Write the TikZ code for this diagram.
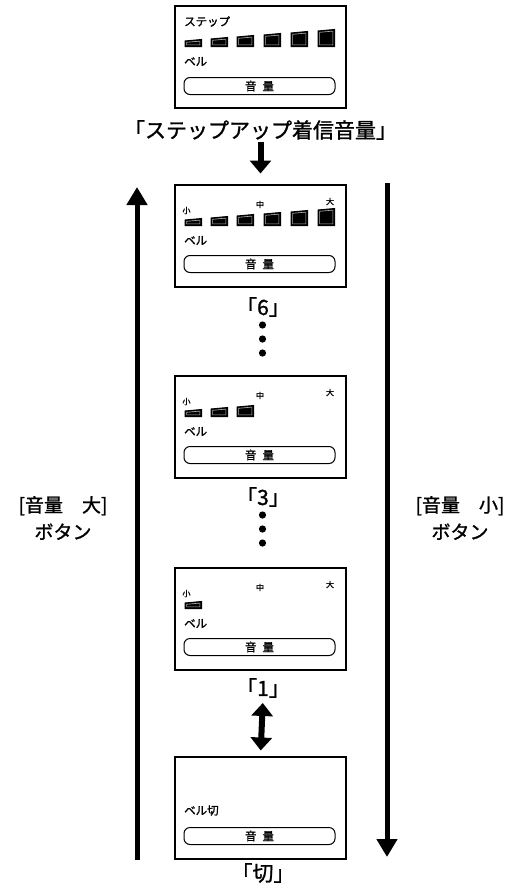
\documentclass[tikz,border=0pt]{standalone}
\usepackage{fontspec}
\setmainfont{Noto Sans CJK JP}[FakeBold=1.2]
\usetikzlibrary{arrows.meta,positioning}

\tikzset{
  pantalla/.style={draw, line width=2pt, minimum width=171pt, minimum height=102pt, inner sep=0pt},
  etiqueta/.style={font=\fontsize{21}{24}\selectfont, inner sep=0pt},
  lado/.style={font=\fontsize{19}{27}\selectfont, align=center, inner sep=0pt},
  texto/.style={font=\fontsize{11.5}{13}\selectfont, inner sep=0pt},
  marca/.style={font=\fontsize{8}{9}\selectfont, inner sep=0pt},
  flecha/.style={line width=6pt, -{Triangle[width=21pt,length=13pt]}},
  flechados/.style={line width=6pt, {Triangle[width=21pt,length=13pt]}-{Triangle[width=21pt,length=13pt]}},
  flechalarga/.style={line width=5pt, -{Triangle[width=20pt,length=18pt]}},
}

% barras de volumen (#1 = cuantas)
\newcommand{\barras}[1]{%
  \foreach \i/\xb/\h in {1/11/7, 2/37/9, 3/63/11, 4/90/13, 5/117/15, 6/144/17}{
    \ifnum\i>#1\relax\else
      \filldraw[line width=1pt, fill=black] (\xb,42) -- ++(16.5,0) -- ++(0,-\h) -- ++(-16.5,1.5) -- cycle;
      \draw[gray!60, line width=0.6pt] ({\xb+1.6},40.4) -- ++(13.3,0) -- ++(0,{-(\h-3.2)}) -- ++(-13.3,1.2) -- cycle;
    \fi}}

% boton "音 量" (#1 = prefijo, #2 = y)
\newcommand{\boton}[2]{%
  \draw[line width=1pt, rounded corners=6pt] (10,#2) rectangle (161,#2+17);
  \node[texto] (#1-vol) at (85.5,#2+8.5) {音\hspace{6pt}量};}

% escala con 小 中 大
\newcommand{\escala}[2]{%
  \node[marca] (#1-min) at (12.5,27) {小};
  \node[marca] (#1-med) at (86,21) {中};
  \node[marca] (#1-max) at (156,18) {大};
  \barras{#2}
  \node[texto, anchor=west] (#1-bel) at (10,57) {ベル};
  \boton{#1}{72}}

\begin{document}
\begin{tikzpicture}[x=1pt, y=-1pt]
    \useasboundingbox (0,0) rectangle (520,889);

    % Pantallas
    \node[pantalla] (p0) at (260.5,56.5) {};
    \node[pantalla] (p6) at (260.5,235.5) {};
    \node[pantalla] (p3) at (260.5,426.5) {};
    \node[pantalla] (p1) at (260.5,618.5) {};
    \node[pantalla] (pk) at (260.5,807.5) {};

    % Paso a paso
    \begin{scope}[shift={(p0.north west)}]
        \node[texto, anchor=west] (p0-txt) at (10,17) {ステップ};
        \barras{6}
        \node[texto, anchor=west] (p0-bel) at (10,57) {ベル};
        \boton{p0}{73}
    \end{scope}
    \begin{scope}[shift={(p6.north west)}]
        \escala{p6}{6}
    \end{scope}
    \begin{scope}[shift={(p3.north west)}]
        \escala{p3}{3}
    \end{scope}
    \begin{scope}[shift={(p1.north west)}]
        \escala{p1}{1}
    \end{scope}
    \begin{scope}[shift={(pk.north west)}]
        \node[texto, anchor=west] (pk-bel) at (10,55) {ベル切};
        \boton{pk}{72}
    \end{scope}

    % Etiquetas
    \node[etiqueta] (l0) at (260.5,130) {「ステップアップ着信音量」};
    \node[etiqueta] (l6) at (263,307) {「6」};
    \node[etiqueta] (l3) at (263,497) {「3」};
    \node[etiqueta] (l1) at (263,688) {「1」};
    \node[etiqueta] (lk) at (263,873) {「切」};

    % Puntos
    \foreach \y in {325,339,353,515,529,543}
        \fill (262.5,\y) circle (3.6);

    % Flechas centrales
    \draw[flecha, shorten <=2pt, shorten >=10pt] (l0.south) -- (p6.north);
    \draw[flechados, shorten <=5pt, shorten >=5pt] (l1.south) -- (pk.north);

    % Flechas laterales
    \coordinate (ai) at (137,860);
    \coordinate (af) at (137,187);
    \coordinate (di) at (387,183);
    \coordinate (df) at (387,857);
    \draw[flechalarga] (ai) -- (af);
    \draw[flechalarga] (di) -- (df);

    \node[lado] (bmas) at (63,518) {[音量　大]\\ボタン};
    \node[lado] (bmenos) at (460,518) {[音量　小]\\ボタン};
\end{tikzpicture}
\end{document}
